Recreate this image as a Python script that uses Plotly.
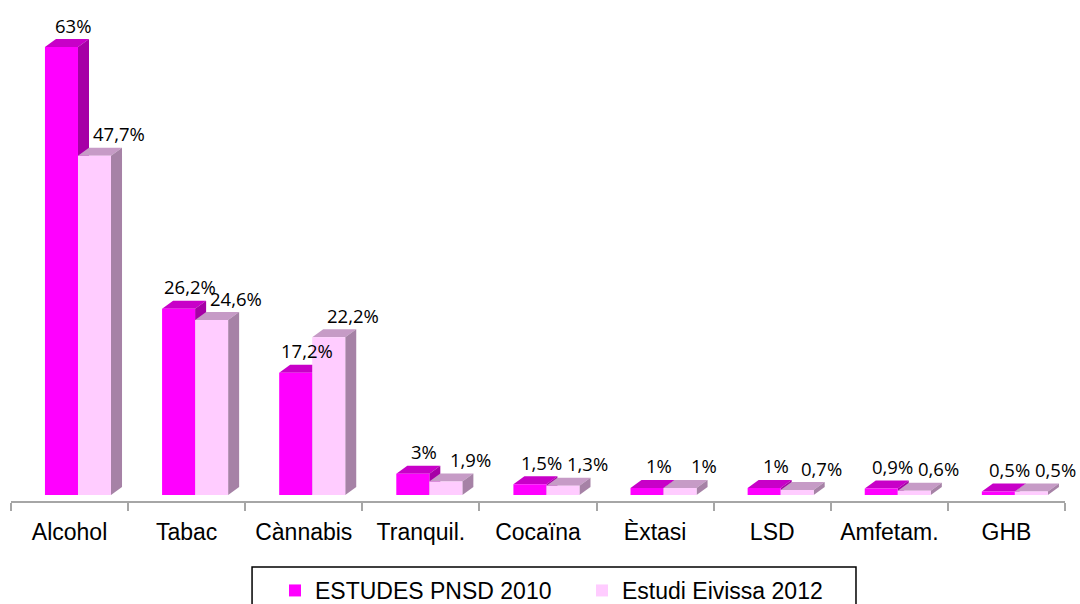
import plotly.graph_objects as go

categories = ["Alcohol", "Tabac", "Cànnabis", "Tranquil.", "Cocaïna", "Èxtasi", "LSD", "Amfetam.", "GHB"]
pnsd_2010 = [63, 26.2, 17.2, 3, 1.5, 1, 1, 0.9, 0.5]
eivissa_2012 = [47.7, 24.6, 22.2, 1.9, 1.3, 1, 0.7, 0.6, 0.5]
series_names = ["ESTUDES PNSD 2010", "Estudi Eivissa 2012"]

# styling
front = ["#FF00FF", "#FFCCFF"]
top_c = ["#C800C8", "#C69BC6"]
side_c = ["#A600A6", "#A682A6"]
bar_w = 0.282
offsets = [-0.21, 0.072]
label_dx = [0.03, 0.42]
dx = 0.094     # depth in x units
dy = 1.125     # depth in y units

def fmt(v):
    return ("%g" % v).replace(".", ",") + "%"

xs = list(range(len(categories)))
fig = go.Figure()
shapes = []
annotations = []
for s, vals in enumerate([pnsd_2010, eivissa_2012]):
    fig.add_trace(go.Bar(
        x=xs, y=vals, name=series_names[s], width=bar_w, offset=offsets[s],
        marker=dict(color=front[s], line=dict(width=0)), hoverinfo="skip",
    ))
    for i, v in zip(xs, vals):
        x0 = i + offsets[s]
        x1 = x0 + bar_w
        shapes.append(dict(
            type="path", xref="x", yref="y", layer="below",
            path=f"M{x0},{v} L{x1},{v} L{x1+dx},{v+dy} L{x0+dx},{v+dy} Z",
            fillcolor=top_c[s], line=dict(width=0)))
        shapes.append(dict(
            type="path", xref="x", yref="y", layer="below",
            path=f"M{x1},0 L{x1},{v} L{x1+dx},{v+dy} L{x1+dx},{dy} Z",
            fillcolor=side_c[s], line=dict(width=0)))
        annotations.append(dict(
            x=i + label_dx[s], y=v + dy, xref="x", yref="y", text=fmt(v),
            showarrow=False, yanchor="middle", yshift=14,
            font=dict(family="Open Sans", size=18.5, color="#000000")))

# legend frame
shapes.append(dict(type="rect", xref="paper", yref="paper",
                   x0=0.2287, x1=0.8017, y0=-0.1344, y1=-0.23,
                   line=dict(color="#000000", width=1.5), fillcolor="rgba(0,0,0,0)",
                   layer="above"))

fig.update_layout(
    template="none",
    width=1080, height=604,
    margin=dict(l=11, r=15, t=10, b=103, autoexpand=False),
    paper_bgcolor="white", plot_bgcolor="white",
    barmode="overlay",
    shapes=shapes, annotations=annotations,
    showlegend=True,
    legend=dict(
        orientation="h", xref="container", yref="container",
        x=275 / 1080, xanchor="left", y=1 - 569 / 604, yanchor="top",
        font=dict(family="Liberation Sans, Arial", size=23, color="#000000"),
        borderwidth=0, bgcolor="rgba(0,0,0,0)",
        entrywidth=262, entrywidthmode="pixels",
    ),
    xaxis=dict(
        range=[-0.5, 8.5], tickmode="array", tickvals=xs, ticktext=categories,
        ticks="", showgrid=False, zeroline=False, showline=True, automargin=False,
        linecolor="#A6A6A6", linewidth=2, ticklabelstandoff=9,
        tickfont=dict(family="Liberation Sans, Arial", size=23, color="#000000"),
        minor=dict(tickmode="array", tickvals=[i - 0.5 for i in range(len(categories) + 1)],
                   ticks="outside", ticklen=8, tickwidth=2, tickcolor="#A6A6A6", showgrid=False),
        fixedrange=True,
    ),
    yaxis=dict(range=[-0.844, 68.21], visible=False, showgrid=False, zeroline=False,
               automargin=False, fixedrange=True),
)

fig.write_html("out.html", config={"displayModeBar": False},
               post_script="document.body.style.margin='0';document.body.style.overflow='hidden';")
